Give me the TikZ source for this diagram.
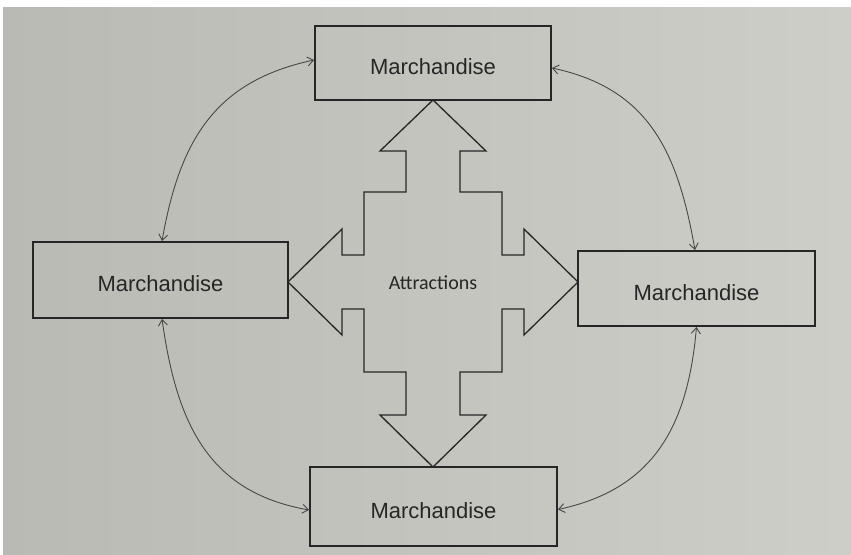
\documentclass[tikz,border=0pt]{standalone}
\usepackage{fontspec}
\setmainfont{Liberation Sans}
\newfontfamily\calib{Carlito}
\usetikzlibrary{arrows.meta}
\definecolor{paperL}{RGB}{186,186,181}
\definecolor{paperR}{RGB}{206,206,201}
\definecolor{ink}{RGB}{38,38,38}
\begin{document}
\begin{tikzpicture}[x=1pt,y=1pt,
  mbox/.style={draw=ink, line width=1.8pt, rectangle, inner sep=0pt,
    font=\fontsize{22}{25}\selectfont, text=ink, text height=23.5pt, text depth=0pt},
  link/.style={draw=ink!85, line width=0.9pt, <->, >={Straight Barb[length=6pt,width=9pt]}, looseness=1.1},
  crossline/.style={draw=ink, line width=1.3pt, line join=miter},
  crosslabel/.style={font=\calib\fontsize{20}{23}\selectfont, text=ink, inner sep=0pt}]
\useasboundingbox (0,0) rectangle (851,554);
\fill[white] (0,0) rectangle (851,554);
\shade[left color=paperL, right color=paperR] (3,0) rectangle (851,546);
% boxes
\node[mbox, minimum width=236pt, minimum height=74pt] (T) at (433,491) {Marchandise};
\node[mbox, minimum width=255pt, minimum height=76pt] (L) at (160.5,274) {Marchandise};
\node[mbox, minimum width=237pt, minimum height=75pt] (R) at (696.5,265.5) {Marchandise};
\node[mbox, minimum width=247pt, minimum height=79pt] (B) at (433.5,47.5) {Marchandise};
% cross-shaped four-way arrow
\coordinate (c) at (433,272);
\begin{scope}[shift={(c)}]
\draw[crossline] (0,182) -- (53,131) -- (27,131) -- (27,90) -- (69,90) -- (69,27)
  -- (91,27) -- (91,53) -- (145,0) -- (91,-53) -- (91,-27) -- (69,-27) -- (69,-90)
  -- (27,-90) -- (27,-133) -- (53,-133) -- (0,-185) -- (-53,-133) -- (-27,-133)
  -- (-27,-90) -- (-69,-90) -- (-69,-27) -- (-91,-27) -- (-91,-53) -- (-145,0)
  -- (-91,53) -- (-91,27) -- (-69,27) -- (-69,90) -- (-27,90) -- (-27,131)
  -- (-53,131) -- cycle;
\end{scope}
\node[crosslabel] (A) at (433,271) {Attractions};
% curved double arrows
\draw[link] ([xshift=1.5pt]L.north) to[out=80,in=192] ([yshift=3pt]T.west);
\draw[link] ([yshift=-5pt]T.east) to[out=-12,in=100] ([xshift=-1.5pt]R.north);
\draw[link] ([xshift=1.5pt]L.south) to[out=-82,in=170] ([yshift=-3.5pt]B.west);
\draw[link] ([yshift=-3pt]B.east) to[out=12,in=-95] (R.south);
\end{tikzpicture}
\end{document}
